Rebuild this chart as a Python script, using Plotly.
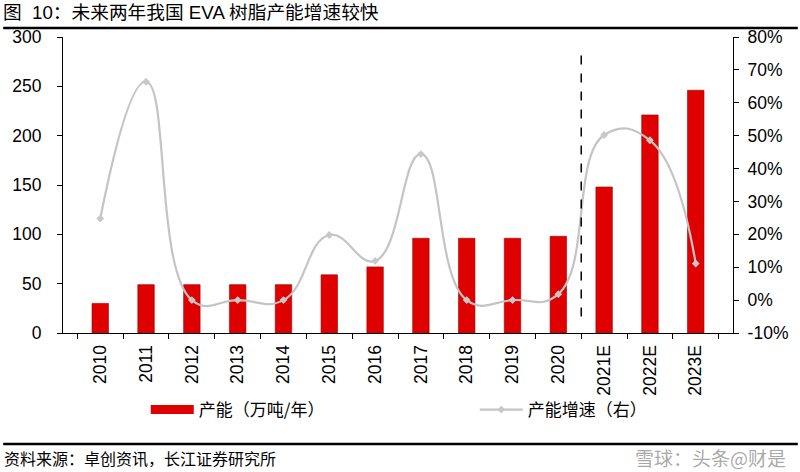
import plotly.graph_objects as go

categories = ["2010", "2011", "2012", "2013", "2014", "2015", "2016", "2017",
              "2018", "2019", "2020", "2021E", "2022E", "2023E"]
capacity = [30, 49, 49, 49, 49, 59, 67, 96, 96, 96, 98, 148, 221, 246]
growth = [24.8, 66.4, 0.0, 0.0, 0.0, 19.8, 11.9, 44.4, 0.0, 0.0, 1.8, 50.2, 48.6, 11.1]
left_ticks = [0, 50, 100, 150, 200, 250, 300]
right_ticks = [-10, 0, 10, 20, 30, 40, 50, 60, 70, 80]
first_forecast = "2021E"

FONT = "Liberation Sans, Arial, Noto Sans CJK SC"
CJK = "Noto Sans CJK SC"
BAR_RED = "#DF0000"

fig = go.Figure()
fig.add_trace(go.Bar(
    x=categories, y=capacity, name="产能（万吨/年）", showlegend=False,
    marker=dict(color=BAR_RED, line=dict(color="#A00000", width=0.6)),
    yaxis="y",
))
# legend proxy for the bar series (wide rectangle key like the reference)
fig.add_trace(go.Scatter(
    x=[None], y=[None], name="产能（万吨/年）", mode="lines",
    line=dict(color=BAR_RED, width=9), legend="legend", yaxis="y",
))
fig.add_trace(go.Scatter(
    x=categories, y=growth, name="产能增速（右）", mode="lines+markers",
    line=dict(color="#C4C4C4", width=2.2, shape="spline", smoothing=1.3),
    marker=dict(symbol="diamond", size=6, color="#C8C8C8"),
    yaxis="y2", legend="legend2",
))

split = categories.index(first_forecast) - 0.5
fig.add_shape(type="line", xref="x", yref="y2", x0=split, x1=split, y0=-5, y1=74.5,
              line=dict(color="black", width=1.5, dash="dash"))

# title and rules
fig.add_annotation(text="图  10：未来两年我国 EVA 树脂产能增速较快", xref="paper", yref="paper",
                   x=-62/672, y=1 + (37-12)/296, xanchor="left", yanchor="middle",
                   showarrow=False, font=dict(size=18.7, color="black", family="Liberation Sans, Noto Sans CJK SC"))
fig.add_shape(type="line", xref="paper", yref="paper", x0=-60/672, x1=(800-63)/672,
              y0=1 + (37-28)/296, y1=1 + (37-28)/296, line=dict(color="black", width=2.5))
fig.add_shape(type="line", xref="paper", yref="paper", x0=-60/672, x1=(800-63)/672,
              y0=(333-444)/296, y1=(333-444)/296, line=dict(color="black", width=2.5))
fig.add_annotation(text="资料来源：卓创资讯，长江证券研究所", xref="paper", yref="paper",
                   x=-61/672, y=(333-458)/296, xanchor="left", yanchor="middle",
                   showarrow=False, font=dict(size=16, color="black", family=CJK))
fig.add_annotation(text="雪球：头条@财是", xref="paper", yref="paper",
                   x=(790-63)/672, y=(333-457)/296, xanchor="right", yanchor="middle",
                   showarrow=False, font=dict(size=19, color="rgba(110,110,110,0.6)", family=CJK))

leg_common = dict(orientation="h", yanchor="middle", y=(333-410)/296, xanchor="left",
                  font=dict(size=17, family=CJK), bgcolor="rgba(0,0,0,0)",
                  itemwidth=43)

fig.update_layout(
    width=800, height=472,
    margin=dict(l=63, r=65, t=37, b=139),
    paper_bgcolor="white", plot_bgcolor="white",
    font=dict(family=FONT, size=15, color="black"),
    bargap=0.64,
    showlegend=True,
    legend=dict(x=(146-63)/672, **leg_common),
    legend2=dict(x=(476-63)/672, **leg_common),
    xaxis=dict(type="category", showline=True, linecolor="black", linewidth=1.2,
               ticks="outside", tickson="boundaries", ticklen=5, tickcolor="black",
               tickangle=-90, tickfont=dict(size=17.5), ticklabelstandoff=4,
               showgrid=False, mirror=False),
    yaxis=dict(range=[0, 300], tickvals=left_ticks, showline=True, linecolor="black", linewidth=1.2,
               ticks="outside", ticklen=5, tickcolor="black", showgrid=False, zeroline=False,
               tickfont=dict(size=17.5), ticklabelstandoff=12),
    yaxis2=dict(range=[-10, 80], tickvals=right_ticks, ticktext=[f"{v}%" for v in right_ticks],
                overlaying="y", side="right", showline=True, linecolor="black", linewidth=1.2,
                ticks="outside", ticklen=5, tickcolor="black", showgrid=False, zeroline=False,
                tickfont=dict(size=17.5), ticklabelstandoff=5),
)

fig.write_html("out.html", config={"displayModeBar": False},
               post_script="document.body.style.margin='0';document.body.style.overflow='hidden';")
